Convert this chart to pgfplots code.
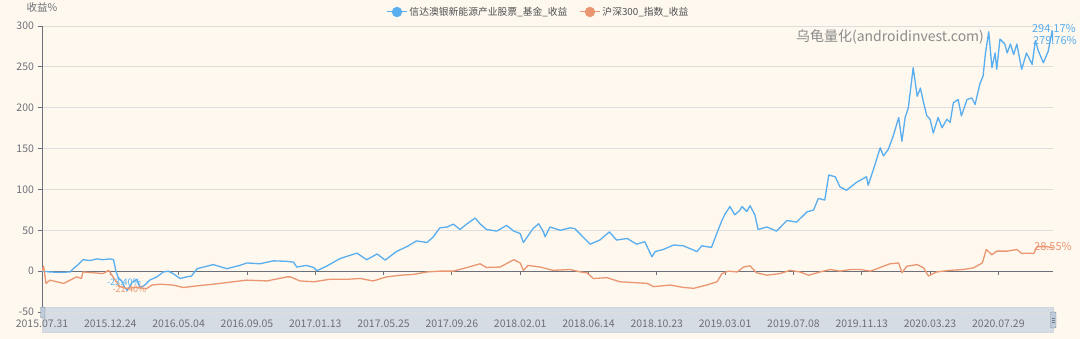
\documentclass[border=0pt]{standalone}
\usepackage{fontspec}
\setmainfont{Noto Sans CJK SC}
\usepackage{pgfplots}
\usepackage{pgfplotstable}
\pgfplotsset{compat=1.18}
\definecolor{bgc}{RGB}{254,248,239}
\definecolor{fundc}{RGB}{88,174,238}
\definecolor{idxc}{RGB}{234,150,112}
\definecolor{axc}{RGB}{110,112,121}
\definecolor{legc}{RGB}{80,80,80}
\definecolor{gridc}{RGB}{222,222,222}
\definecolor{zoomc}{RGB}{214,220,228}
\definecolor{handc}{RGB}{190,203,220}
\definecolor{wmc}{RGB}{140,140,140}

% x = trading day index since 2015.07.31, y = return in %
\pgfplotstableread{
x y
0 0
10 -1
22 -1.5
35 -1
39 3
45 8
51 14
60 13
68 15
76 14
85 15
89 14
92 0
95 -8
99 -12
103 -20
106 -23.4
112 -14
118 -10
122 -20
128 -17
134 -11
143 -7
151 -1
157 0
163 -3
172 -9
180 -7
186 -6
193 3
205 6
213 8
230 3
246 7
255 10
271 9
288 12.6
305 12
313 11
317 5
329 7
338 4.5
342 0.5
354 6
371 15.5
379 18
392 22
404 14
417 21
427 13.5
441 24
454 30
466 37
479 35
487 42
495 53
504 54
512 57.5
520 51
529 58
539 65
545 58
553 51
566 49
578 56
587 49
595 46
599 35
611 52
618 58
624 48
626 42
632 54
645 50
657 53
663 52
670 45
682 33
694 38
706 48
715 38
728 40
740 33
750 36
759 17.5
763 24
773 26.5
786 32
798 31
815 24
821 31
833 29
840 47
846 62
850 70
856 79
862 69
868 74
871 79
877 73
881 80
887 69
891 51
902 54
914 49
927 62
939 60
952 72.6
960 74.7
966 89
974 87
979 117.6
987 115.5
993 103
1001 99
1014 109
1026 115.5
1028 105
1037 132
1043 151
1047 141
1053 149
1059 165
1066 188
1070 159
1074 188
1078 200
1084 249
1089 214
1093 224
1097 206
1101 190
1105 186
1109 169
1115 188
1120 175.5
1126 186
1130 182
1134 206
1140 210
1144 190
1151 210
1157 212
1161 204
1167 229
1171 239
1174 267
1178 293
1182 249
1186 267
1188 247
1192 284
1198 278
1201 267
1205 278
1209 265
1213 278
1219 247
1225 267
1232 253
1236 282
1240 269
1246 255
1252 269
1257 294.17
1258 279.76
}\fund

\pgfplotstableread{
x y
0 0
2 6
5 -15
10 -11
18 -13
27 -15
35 -11
43 -7
49 -9
51 -1
64 -2
76 -3
83 1
87 -5
91 -11
97 -19
105 -21
118 -20
130 -21.4
137 -17
147 -16
163 -17
176 -20
193 -18
213 -16
238 -13
255 -11
280 -12
305 -7
309 -7
321 -12
338 -13
358 -10
379 -10
396 -9
412 -12
429 -7
446 -5
462 -4
479 -1
495 0
512 0
529 4.5
545 9
553 4.5
570 5
587 14
595 10
599 1
605 7
620 5
636 1
657 2
670 -1
678 -2
686 -9
703 -8
719 -13
736 -14
753 -15
761 -19
782 -17
798 -20
811 -21
827 -17
840 -13
846 -3
854 0
865 -1
873 5
881 6.5
889 -2
902 -5
918 -3
931 1
943 -1
954 -5
968 -1
981 2
993 0
1006 2
1018 2
1031 0
1043 4.5
1055 9
1066 10
1070 -2
1076 6
1089 8
1097 4
1103 -6
1113 -1
1130 1
1146 2
1159 4
1170 10
1175 26.5
1182 20
1188 24.5
1201 24.5
1213 26.5
1219 21.6
1225 22
1234 21.6
1238 30
1250 30
1258 28.55
}\csi

\begin{document}
\begin{tikzpicture}
\fill[bgc] (0,0) rectangle (1080pt,339pt);
% data zoom slider band
\filldraw[fill=zoomc, draw=zoomc!85!black!60] (42pt,7pt) rectangle (1053pt,32pt);
\begin{axis}[
    at={(42pt,27pt)}, anchor=south west,
    scale only axis, width=1011pt, height=286pt,
    xmin=0, xmax=1258, ymin=-50, ymax=300,
    axis x line=bottom, axis y line=left,
    axis line style={-},
    x axis line style={draw=none},
    y axis line style={draw=axc, line width=0.9pt},
    xtick={0,85,...,1190},
    xticklabels={2015.07.31,2015.12.24,2016.05.04,2016.09.05,2017.01.13,2017.05.25,2017.09.26,2018.02.01,2018.06.14,2018.10.23,2019.03.01,2019.07.08,2019.11.13,2020.03.23,2020.07.29},
    xtick style={draw=none},
    ytick={-50,0,...,300},
    ytick style={draw=axc, line width=0.8pt},
    major tick length=4.5pt, tick align=outside,
    ymajorgrids, grid style={gridc, line width=0.8pt},
    tick label style={font=\fontsize{10.5}{12}\selectfont, text=axc},
    /pgf/number format/assume math mode=true,
    legend style={at={(0.4911,1.049)}, anchor=center, legend columns=2,
        draw=none, fill=none, font=\fontsize{9.8}{11}\selectfont, text=legc,
        /tikz/every even column/.append style={column sep=10pt}},
]
\draw[axc, line width=0.9pt] (axis cs:0,0) -- (axis cs:1258,0);
\pgfplotsinvokeforeach{85,170,...,1190}{
    \draw[axc, line width=0.8pt] (axis cs:#1,0) -- ++(0pt,-4pt);
}
\addplot[fundc, line width=1.3pt, line join=round,
    legend image code/.code={\draw[fundc, line width=1pt] (0pt,0pt) -- (20pt,0pt); \fill[fundc] (10pt,0pt) circle (4.5pt);}]
    table[x=x, y=y] {\fund};
\addlegendentry{信达澳银新能源产业股票\_基金\_收益}
\addplot[idxc, line width=1.3pt, line join=round,
    legend image code/.code={\draw[idxc, line width=1pt] (0pt,0pt) -- (20pt,0pt); \fill[idxc] (10pt,0pt) circle (4.5pt);}]
    table[x=x, y=y] {\csi};
\addlegendentry{沪深300\_指数\_收益}
\end{axis}
% slider handles
\filldraw[fill=handc, draw=handc!70!black, rounded corners=1pt] (40.5pt,21pt) rectangle (45pt,32pt);
\filldraw[fill=handc, draw=handc!70!black, rounded corners=1pt] (1050.5pt,11pt) rectangle (1056pt,27pt);
\draw[handc!60!black] (1051.5pt,17pt) -- (1055pt,17pt) (1051.5pt,19pt) -- (1055pt,19pt) (1051.5pt,21pt) -- (1055pt,21pt);
% axis name and watermark
\node[text=axc, font=\fontsize{10.5}{12}\selectfont] at (42pt,331pt) {收益\%};
\node[text=wmc, font=\fontsize{14}{16}\selectfont] at (890pt,302pt) {乌龟量化(androidinvest.com)};
% point labels
\node[text=fundc, font=\fontsize{11}{12}\selectfont, anchor=east, inner sep=0pt] at (1076pt,311pt) {294.17\%};
\node[text=fundc, font=\fontsize{11}{12}\selectfont, anchor=east, inner sep=0pt] at (1077pt,299pt) {279.76\%};
\node[text=idxc, font=\fontsize{11}{12}\selectfont, inner sep=0pt] at (1053pt,93pt) {28.55\%};
\node[text=fundc, font=\fontsize{9}{10}\selectfont, inner sep=0pt] at (124pt,56.5pt) {-23.40\%};
\node[text=idxc, font=\fontsize{9}{10}\selectfont, inner sep=0pt] at (129.5pt,49.5pt) {-21.40\%};
\pgfresetboundingbox
\useasboundingbox (0,0) rectangle (1080pt,339pt);
\end{tikzpicture}
\end{document}
